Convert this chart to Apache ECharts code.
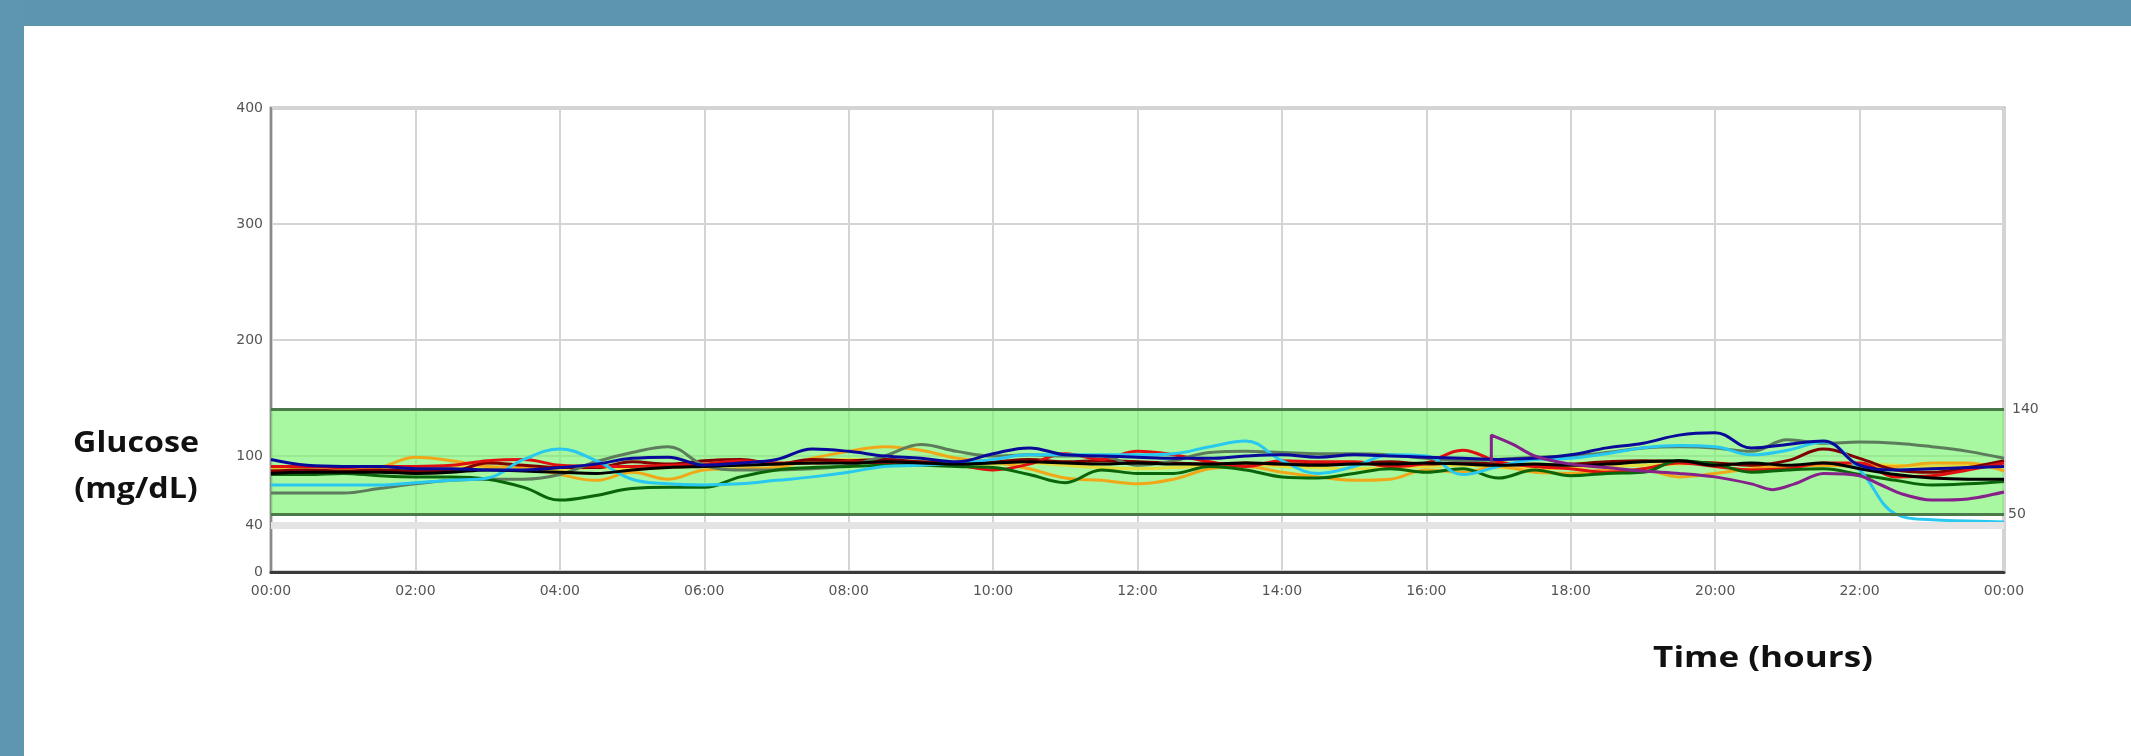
<!DOCTYPE html>
<html>
<head>
<meta charset="utf-8">
<script src="https://cdn.jsdelivr.net/npm/echarts@6/dist/echarts.min.js"></script>
<style>
html,body{margin:0;padding:0;background:#fff;}
#chart{width:2131px;height:756px;}
</style>
</head>
<body>
<div id="chart"></div>
<script>
// ---- data ----
const hours = [0,0.5,1,1.5,2,2.5,3,3.5,4,4.5,5,5.5,6,6.5,7,7.5,8,8.5,9,9.5,10,10.5,11,11.5,12,12.5,13,13.5,14,14.5,15,15.5,16,16.5,17,17.5,18,18.5,19,19.5,20,20.5,21,21.5,22,22.5,23,23.5,24];
const xTickLabels = ['00:00','02:00','04:00','06:00','08:00','10:00','12:00','14:00','16:00','18:00','20:00','22:00','00:00'];
const yTickValues = [0,100,200,300,400];
const targetHigh = 140;
const targetLow = 50;
const lowLine = 40;

const navy = [97,92,91,91,89,89,88,88,90,93,98,99,
  92,94,97,106,104,100,98,95,102,107,101,100,
  99,98,98,100,101,99,101,100,99,98,97,98,
  101,107,111,118,120,107,110,113,92,88,89,90,91];
const gold = [88,88,87,90,99,96,91,90,84,79,86,80,
  88,89,90,98,104,108,105,98,95,89,81,79,
  76,80,89,91,86,82,79,80,88,86,91,86,
  85,88,88,82,85,89,91,92,91,91,94,94,87];
const cyan = [75,75,75,75,77,79,81,97,106,96,80,76,
  75,76,79,82,86,91,92,94,97,101,101,101,
  101,102,108,113,96,85,91,101,100,84,91,97,
  98,102,107,109,108,101,105,112,88,50,45,44,43];
const grayGreen = [68,68,68,72,76,79,80,80,84,95,103,108,
  92,88,88,89,92,100,110,104,100,101,100,100,
  92,96,103,104,103,102,102,101,98,96,97,99,
  100,103,107,108,107,104,114,111,112,111,108,104,98];
const darkGreen = [84,84,85,83,82,82,80,73,62,66,72,73,
  73,82,88,90,91,92,92,91,90,84,77,88,
  85,85,91,88,82,81,85,89,86,89,81,88,
  83,85,86,96,93,86,88,89,84,79,75,76,78];
const red = [91,91,90,91,91,92,96,97,92,91,91,92,
  93,96,94,94,95,94,93,92,88,93,102,97,
  104,101,95,91,96,95,95,91,94,105,95,91,
  89,86,89,94,91,88,89,94,94,82,83,88,94];
const maroon = [87,88,87,88,87,87,94,92,90,90,95,93,
  96,97,93,97,96,97,95,94,95,97,95,96,
  95,94,93,94,93,93,94,95,93,94,93,92,
  93,95,96,95,94,92,96,106,98,88,86,90,96];
const black = [85,86,86,86,85,86,88,87,86,85,88,90,
  91,92,93,94,94,95,94,93,94,95,94,93,
  94,93,93,94,93,92,93,93,94,93,92,93,
  92,93,95,96,92,94,92,94,89,84,81,80,80];
const yellow = [90,89,89,88,90,91,90,89,88,90,89,90,
  91,92,93,95,97,96,95,94,93,94,92,90,
  89,90,92,93,91,90,89,90,91,92,90,89,
  90,91,92,93,94,92,91,92,93,92,91,92,90];
const purpleHours = [16.9,16.9,17.2,17.5,18,18.5,19,19.5,20,20.5,20.8,21.1,21.5,22,22.3,22.6,23,23.5,24];
const purple = [95,118,110,100,93,90,87,85,82,76,71,76,85,83,75,67,62,63,69];

// ---- chart ----
const lineSeries = [
  {name:'yellow', color:'#e6dc3c', values:yellow},
  {name:'gold', color:'#f0a818', values:gold},
  {name:'maroon', color:'#800000', values:maroon},
  {name:'red', color:'#e01010', values:red},
  {name:'grayGreen', color:'#5c7c5c', values:grayGreen},
  {name:'darkGreen', color:'#0a640a', values:darkGreen},
  {name:'cyan', color:'#28c8f0', values:cyan},
  {name:'black', color:'#000000', values:black},
  {name:'navy', color:'#0a0a9a', values:navy}
];

const labelStyle = {color:'#555', fontSize:14, fontFamily:'DejaVu Sans'};

const series = [{
  type:'line', data:[], z:1, silent:true,
  markArea:{silent:true, itemStyle:{color:'rgba(120,245,110,0.65)'},
    data:[[{yAxis:targetLow},{yAxis:targetHigh}]]},
  markLine:{silent:true, symbol:['none','none'], animation:false,
    data:[
      {yAxis:lowLine, lineStyle:{color:'#e4e4e4', width:7, type:'solid'},
        label:{show:true, position:'start', formatter:String(lowLine), distance:8, ...labelStyle}},
      {yAxis:targetHigh, lineStyle:{color:'#4a7a4a', width:3, type:'solid'},
        label:{show:true, position:'end', formatter:String(targetHigh), distance:8, ...labelStyle}},
      {yAxis:targetLow, lineStyle:{color:'#4a7a4a', width:3, type:'solid'},
        label:{show:true, position:'end', formatter:String(targetLow), distance:4, ...labelStyle}}
    ]}
}];
lineSeries.forEach(s => series.push({
  type:'line', name:s.name, z:3, smooth:0.4, showSymbol:false, silent:true,
  lineStyle:{color:s.color, width:3}, itemStyle:{color:s.color},
  data: hours.map((h,i)=>[h, s.values[i]])
}));
series.push({
  type:'line', name:'purple', z:3, smooth:0.3, showSymbol:false, silent:true,
  lineStyle:{color:'#86208a', width:3}, itemStyle:{color:'#86208a'},
  data: purpleHours.map((h,i)=>[h, purple[i]])
});

const chart = echarts.init(document.getElementById('chart'));
chart.setOption({
  animation:false,
  backgroundColor:'#ffffff',
  grid:{left:271, right:127, top:108, bottom:184, show:true, borderColor:'#a8a8a8', borderWidth:3, containLabel:false},
  xAxis:{type:'value', min:0, max:24, interval:2,
    axisLine:{show:true, onZero:false, lineStyle:{color:'#3a3a3a', width:3}},
    axisTick:{show:false},
    axisLabel:{...labelStyle, margin:12, formatter:v=>xTickLabels[Math.round(v/2)]},
    splitLine:{show:true, lineStyle:{color:'#d4d4d4', width:2}}},
  yAxis:{type:'value', min:0, max:400, interval:100,
    axisLine:{show:true, lineStyle:{color:'#8a8a8a', width:2}},
    axisTick:{show:false},
    axisLabel:{...labelStyle, margin:8, formatter:v=>yTickValues.indexOf(v)>=0?String(v):''},
    splitLine:{show:true, lineStyle:{color:'#d4d4d4', width:2}}},
  graphic:[
    {type:'rect', shape:{x:0,y:0,width:2131,height:26}, style:{fill:'#5e95ae'}, silent:true},
    {type:'rect', shape:{x:0,y:0,width:24,height:756}, style:{fill:'#5e96b0'}, silent:true},
    {type:'text', x:136, y:444, scaleX:1.15, style:{text:'Glucose', fill:'#111', font:'bold 28px "Open Sans"', align:'center', verticalAlign:'middle'}},
    {type:'text', x:136, y:490, scaleX:1.15, style:{text:'(mg/dL)', fill:'#111', font:'bold 28px "Open Sans"', align:'center', verticalAlign:'middle'}},
    {type:'text', x:1763, y:659, scaleX:1.25, style:{text:'Time (hours)', fill:'#111', font:'bold 28px "Open Sans"', align:'center', verticalAlign:'middle'}}
  ],
  series:series
});
</script>
</body>
</html>
